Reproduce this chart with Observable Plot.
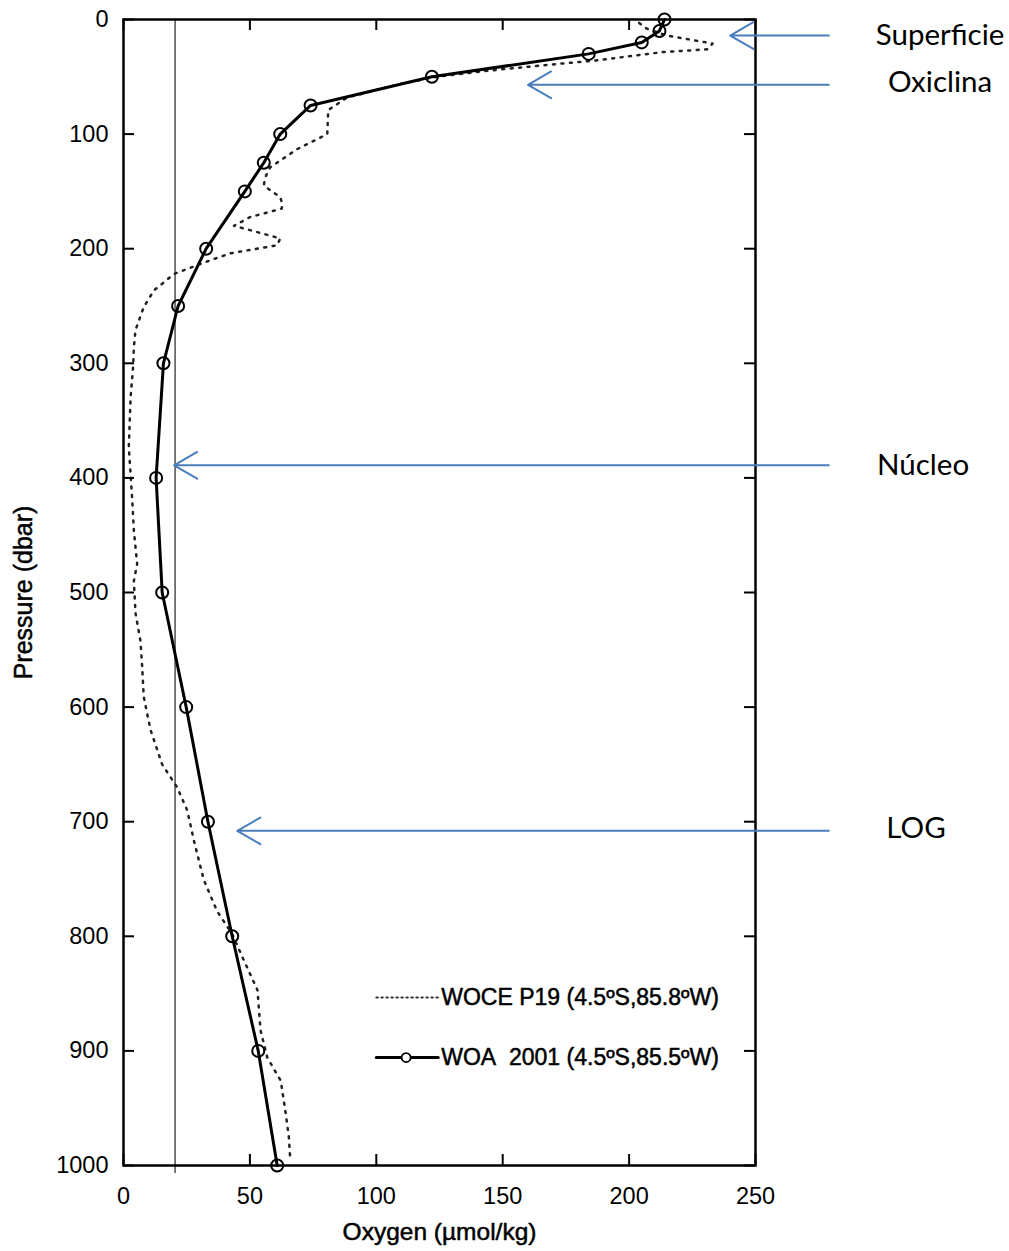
<!DOCTYPE html>
<html><head><meta charset="utf-8">
<script src="https://cdn.jsdelivr.net/npm/d3@7"></script>
<script src="https://cdn.jsdelivr.net/npm/@observablehq/plot@0.6"></script>
<style>body{margin:0;background:#fff} svg{display:block}</style>
</head><body><div id="chart"></div>
<script>
// WOA 2001 profile (circles + solid line)
const woaDepth  = [0, 10, 20, 30, 50, 75, 100, 125, 150, 200, 250, 300, 400, 500, 600, 700, 800, 900, 1000];
const woaOxygen = [214, 212, 205, 184, 122, 74, 62, 55.5, 48, 32.7, 21.6, 15.8, 12.9, 15.3, 24.8, 33.4, 43, 53.3, 60.8];

// WOCE P19 profile (dotted)
const woceDepth  = [3, 8, 14, 21, 26, 28.5, 36, 38.5, 44.5, 50, 56, 68, 79, 100, 113, 129, 138, 145, 155, 161, 165, 172.5, 180, 191, 197, 204, 209, 222, 236.5, 251, 271, 286, 303, 330, 373, 417, 446, 475, 490, 518, 542, 565, 591, 620, 650, 670, 690, 716, 745, 751, 778, 798, 818, 847, 882, 906, 926, 952, 975, 996];
const woceOxygen = [204, 207, 215, 233, 231, 213, 186, 173, 145, 124, 110, 88.5, 81, 80.6, 68.8, 58, 56, 55.5, 62, 62.8, 62.6, 50, 43.7, 62, 60.8, 42.4, 35.7, 20, 12, 8, 4.75, 4.1, 3.8, 2.8, 2.1, 3.4, 4.1, 5.4, 4.1, 4.75, 6.7, 7.4, 8, 10.7, 15.3, 21.2, 25.2, 27.8, 31.1, 31.8, 37, 43, 47, 53, 54.2, 56.9, 62.2, 64, 65.4, 66];

const xTicks = [0, 50, 100, 150, 200, 250];
const yTicks = [0, 100, 200, 300, 400, 500, 600, 700, 800, 900, 1000];
const refOxygen = 20.4;

// Annotations (arrow from the right margin pointing at the profile)
const annLabels     = ["Superficie", "Oxiclina", "Núcleo", "LOG"];
const annDepth      = [14, 57, 389, 708];
const annTipOxygen  = [240, 160, 20, 45];
const annTailOxygen = [279, 279, 279, 279];
const annLabelOxy   = [323, 323, 316.3, 313.5];
const annLabelDepth = [14, 55, 389, 706];

// Legend
const legendLabels = ["WOCE P19 (4.5ºS,85.8ºW)", "WOA\u00a0 2001 (4.5ºS,85.5ºW)"];
const legendDepth  = [853.4, 905.8];
const legendLineX  = [100, 124.5];
const legendDotX   = 111.8;
const legendTextX  = 125.7;

const W = 1009, H = 1251, mL = 123, mR = 254, mT = 19, mB = 86;
const frameH = H - mT - mB, frameW = W - mL - mR;

const woa = woaDepth.map((d, i) => ({depth: d, oxygen: woaOxygen[i]}));
const woce = woceDepth.map((d, i) => ({depth: d, oxygen: woceOxygen[i]}));
const ann = annLabels.map((l, i) => ({label: l, depth: annDepth[i], tip: annTipOxygen[i], tail: annTailOxygen[i], lx: annLabelOxy[i], ly: annLabelDepth[i]}));
const font = "'Liberation Sans', Arial, sans-serif";
const thick = {stroke: "#000", strokeWidth: 0.5, fill: "#000"};

const chart = Plot.plot({
  width: W, height: H,
  marginLeft: mL, marginRight: mR, marginTop: mT, marginBottom: mB,
  style: {fontFamily: font, fontSize: "23px", color: "#000", background: "#fff", overflow: "visible"},
  x: {domain: [0, 250]},
  y: {domain: [0, 1000], reverse: true},
  marks: [
    Plot.ruleX([refOxygen], {stroke: "#222", strokeWidth: 1.2, insetBottom: -8}),
    Plot.line(woce, {x: "oxygen", y: "depth", stroke: "#222", strokeWidth: 2.5, strokeDasharray: "2,6.5"}),
    Plot.line(woa, {x: "oxygen", y: "depth", stroke: "#000", strokeWidth: 3}),
    Plot.dot(woa, {x: "oxygen", y: "depth", r: 6, stroke: "#000", strokeWidth: 2, fill: "none"}),
    // inward ticks on all four sides
    Plot.ruleX(xTicks, {insetTop: frameH - 11, stroke: "#000", strokeWidth: 2}),
    Plot.ruleX(xTicks, {insetBottom: frameH - 11, stroke: "#000", strokeWidth: 2}),
    Plot.ruleY(yTicks, {insetRight: frameW - 11, stroke: "#000", strokeWidth: 2}),
    Plot.ruleY(yTicks, {insetLeft: frameW - 11, stroke: "#000", strokeWidth: 2}),
    Plot.frame({stroke: "#000", strokeWidth: 2.5}),
    Plot.axisX(xTicks, {anchor: "bottom", tickSize: 0, tickPadding: 22, fontSize: 23.5, tickFormat: d => String(d), label: null, ...thick}),
    Plot.axisY(yTicks, {anchor: "left", tickSize: 0, tickPadding: 15, fontSize: 23.5, tickFormat: d => String(d), label: null, ...thick}),
    Plot.text(["Oxygen (µmol/kg)"], {frameAnchor: "bottom", textAnchor: "middle", dy: 74, fontSize: 24.5, ...thick}),
    Plot.text(["Pressure (dbar)"], {frameAnchor: "left", textAnchor: "middle", dx: -100, rotate: -90, fontSize: 25, ...thick}),
    // legend
    Plot.line(legendLineX.map(x => ({x, y: legendDepth[0]})), {x: "x", y: "y", stroke: "#333", strokeWidth: 1.8, strokeDasharray: "1.6,3.4"}),
    Plot.line(legendLineX.map(x => ({x, y: legendDepth[1]})), {x: "x", y: "y", stroke: "#000", strokeWidth: 3}),
    Plot.dot([{x: legendDotX, y: legendDepth[1]}], {x: "x", y: "y", r: 4.5, stroke: "#000", strokeWidth: 1.8, fill: "white"}),
    Plot.text(legendLabels.map((t, i) => ({t, y: legendDepth[i]})), {x: legendTextX, y: "y", text: "t", textAnchor: "start", fontSize: 23, ...thick}),
    // annotations
    Plot.arrow(ann, {x1: "tail", y1: "depth", x2: "tip", y2: "depth", stroke: "#4a7ebb", strokeWidth: 2, headLength: 20, headAngle: 60}),
    Plot.text(ann, {x: "lx", y: "ly", text: "label", fontFamily: "Lato", fontSize: 29.5, fill: "#000"})
  ]
});
document.getElementById("chart").append(chart);
</script>
</body></html>
